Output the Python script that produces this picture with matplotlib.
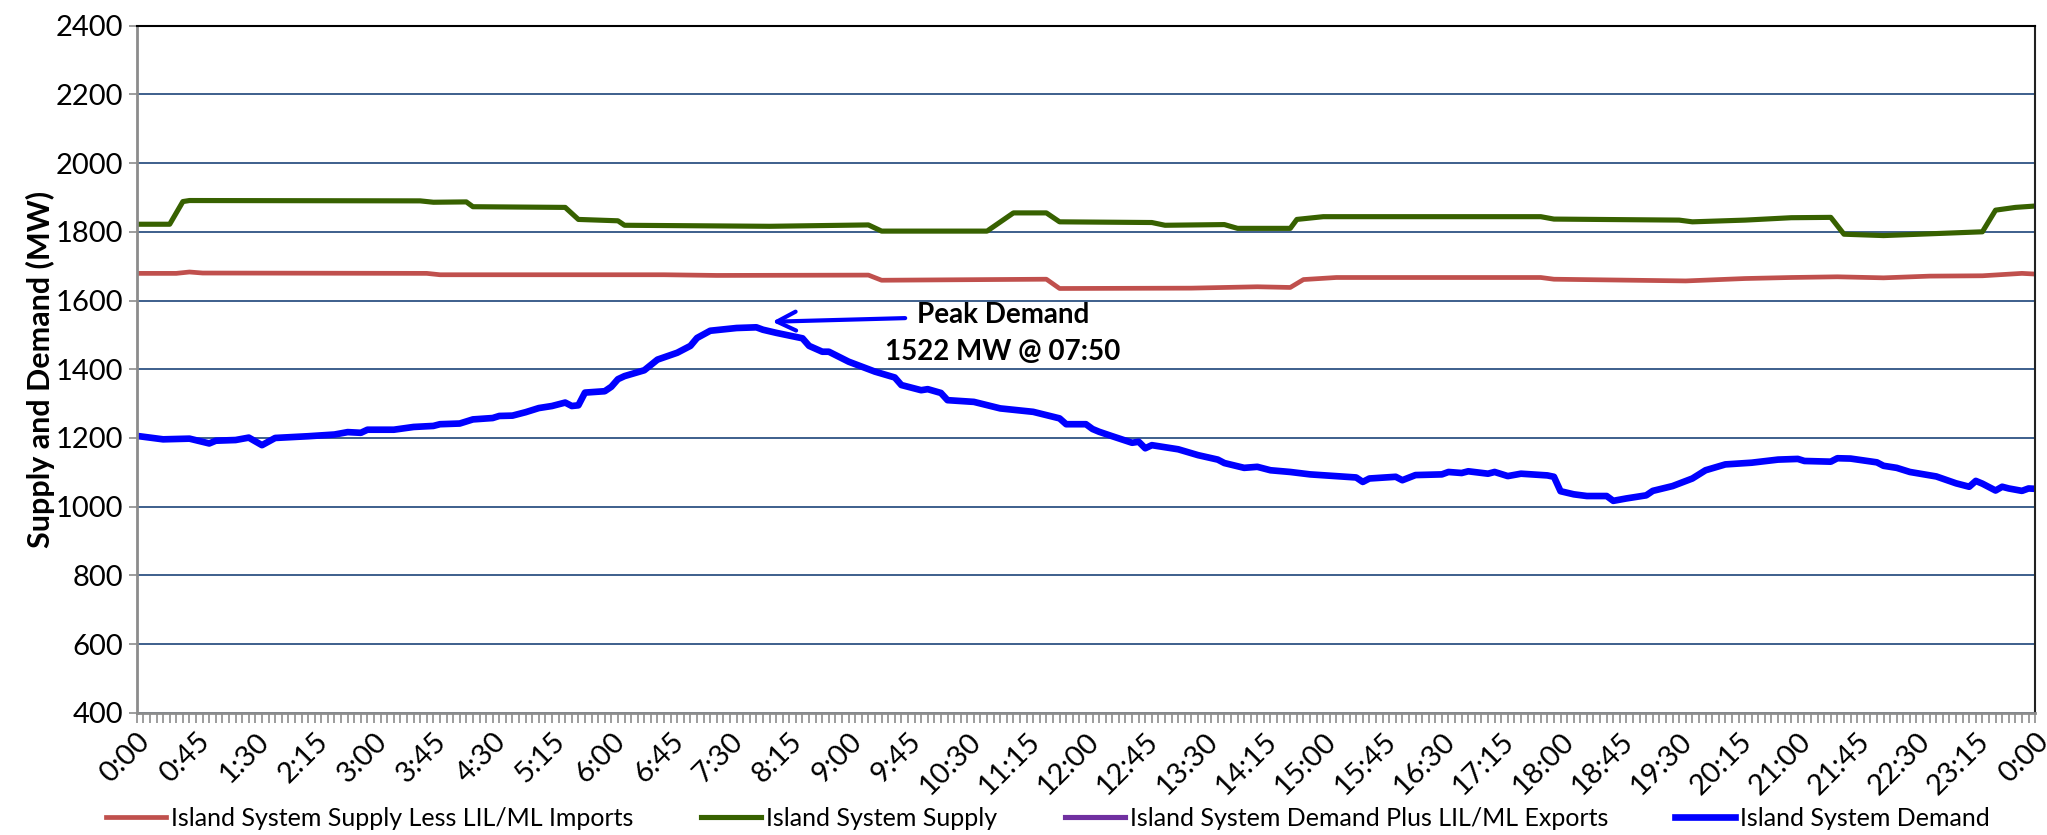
import numpy as np
import matplotlib
matplotlib.use('Agg')
import matplotlib.pyplot as plt
from matplotlib.ticker import MultipleLocator, FuncFormatter

plt.rcParams['font.family'] = ['Lato', 'DejaVu Sans']

# minutes after midnight, MW
demand_t = [0, 20, 40, 55, 60, 75, 85, 95, 105, 130, 150, 160, 170, 175, 195, 210, 225, 230, 245,
            255, 270, 275, 285, 295, 305, 315, 325, 330, 335, 340, 355, 360, 365, 370, 385, 395,
            410, 420, 425, 435, 455, 470, 475, 485, 490, 505, 510, 520, 525, 540, 560, 575, 580,
            595, 600, 610, 615, 635, 655, 680, 700, 705, 720, 725, 730, 740, 755, 760, 765, 770,
            790, 805, 820, 825, 840, 850, 860, 875, 890, 910, 925, 930, 935, 955, 960, 970, 990,
            995, 1005, 1010, 1025, 1030, 1040, 1050, 1070, 1075, 1080, 1090, 1100, 1115, 1120,
            1130, 1145, 1150, 1165, 1180, 1190, 1205, 1225, 1245, 1260, 1265, 1285, 1290, 1300,
            1320, 1325, 1335, 1345, 1365, 1380, 1390, 1395, 1400, 1410, 1415, 1420, 1430, 1435, 1440]
demand_mw = [1206, 1196, 1198, 1184, 1192, 1194, 1201, 1179, 1200, 1205, 1210, 1217, 1215, 1224, 1224,
             1232, 1235, 1240, 1242, 1254, 1258, 1264, 1265, 1275, 1287, 1293, 1303, 1293, 1295, 1332,
             1336, 1349, 1371, 1380, 1397, 1428, 1448, 1468, 1491, 1512, 1520, 1522, 1515, 1506, 1502,
             1490, 1468, 1451, 1451, 1422, 1393, 1376, 1354, 1339, 1342, 1331, 1310, 1305, 1286, 1276,
             1257, 1240, 1240, 1226, 1218, 1205, 1186, 1189, 1170, 1179, 1167, 1150, 1137, 1127, 1113,
             1116, 1106, 1101, 1094, 1089, 1085, 1072, 1082, 1087, 1077, 1092, 1094, 1101, 1098, 1103,
             1096, 1101, 1089, 1096, 1091, 1087, 1045, 1036, 1031, 1031, 1017, 1024, 1033, 1046, 1060,
             1082, 1106, 1123, 1128, 1137, 1139, 1133, 1131, 1141, 1140, 1129, 1119, 1113, 1101, 1088,
             1068, 1058, 1075, 1067, 1047, 1058, 1053, 1046, 1053, 1052]

supply_t = [0, 25, 35, 40, 215, 225, 250, 255, 325, 335, 365, 370, 480, 555, 565, 645, 665, 690, 700,
            770, 780, 825, 835, 875, 880, 900, 1065, 1075, 1170, 1180, 1220, 1255, 1285, 1295, 1325,
            1400, 1410, 1425, 1440]
supply_mw = [1822, 1822, 1888, 1891, 1890, 1886, 1887, 1873, 1871, 1836, 1832, 1819, 1816, 1820, 1802,
             1802, 1855, 1855, 1829, 1827, 1819, 1821, 1810, 1810, 1836, 1844, 1844, 1837, 1834, 1829,
             1834, 1841, 1842, 1793, 1789, 1800, 1863, 1871, 1875]

less_imp_t = [0, 30, 40, 50, 220, 230, 400, 440, 555, 565, 690, 700, 800, 850, 875, 885, 910, 1065,
              1075, 1175, 1220, 1255, 1290, 1325, 1360, 1400, 1430, 1440]
less_imp_mw = [1679, 1679, 1683, 1680, 1679, 1675, 1675, 1673, 1674, 1659, 1662, 1635, 1636, 1640, 1638,
               1661, 1667, 1667, 1662, 1657, 1664, 1667, 1669, 1666, 1671, 1672, 1679, 1677]

series_names = ['Island System Supply Less LIL/ML Imports', 'Island System Supply',
                'Island System Demand Plus LIL/ML Exports', 'Island System Demand']

peak_t = 470
peak_mw = 1522

fig = plt.figure(figsize=(20.47, 8.35), dpi=100)
ax = fig.add_axes([0.0668, 0.1463, 0.9274, 0.8230])

ax.plot(less_imp_t, less_imp_mw, color='#C0504D', lw=3.4, label=series_names[0], solid_joinstyle='round')
ax.plot(supply_t, supply_mw, color='#376100', lw=3.7, label=series_names[1], solid_joinstyle='round')
# exports series sits under the demand line, nothing visible
ax.plot([], [], color='#7030A0', lw=3.7, label=series_names[2])
ax.plot(demand_t, demand_mw, color='#0000FF', lw=4.8, label=series_names[3], solid_joinstyle='round')

ax.set_xlim(0, 1440)
ax.set_ylim(400, 2400)
ax.yaxis.set_major_locator(MultipleLocator(200))
ax.grid(axis='y', color='#3D5F8C', lw=1.4)
ax.set_axisbelow(True)

ax.xaxis.set_major_locator(MultipleLocator(45))
ax.xaxis.set_minor_locator(MultipleLocator(5))
ax.xaxis.set_major_formatter(FuncFormatter(lambda v, p: '%d:%02d' % ((int(v) // 60) % 24, int(v) % 60)))
ax.tick_params(axis='x', which='both', direction='out', length=7, width=1.2, color='#8C8C8C')
ax.tick_params(axis='x', which='major', labelsize=21, pad=4)
ax.tick_params(axis='y', direction='out', length=6, width=1.2, color='#8C8C8C', labelsize=21, pad=4)
for lab in ax.get_xticklabels():
    lab.set_rotation(45)
    lab.set_ha('right')
    lab.set_rotation_mode('anchor')

for s in ['left', 'bottom']:
    ax.spines[s].set_color('#8C8C8C')
    ax.spines[s].set_linewidth(2)
ax.spines['top'].set_color('black')
ax.spines['top'].set_linewidth(1.5)
ax.spines['right'].set_color('#222222')
ax.spines['right'].set_linewidth(1.5)

ax.set_ylabel('Supply and Demand (MW)', fontsize=22, fontweight='bold', labelpad=0)

ax.annotate('', xy=(peak_t + 10, peak_mw + 16), xytext=(585, peak_mw + 27),
            arrowprops=dict(arrowstyle='->', color='#0000FF', lw=3, mutation_scale=34))
ax.text(657, 1557, 'Peak Demand', fontsize=20, fontweight='bold', ha='center', va='center')
ax.text(657, 1450, '1522 MW @ 07:50', fontsize=20, fontweight='bold', ha='center', va='center')

fig.legend(loc='center', bbox_to_anchor=(0.512, 0.02), ncol=4, frameon=False, fontsize=18,
           handlelength=2.4, handletextpad=0.2, columnspacing=2.7)

fig.savefig('out.png', dpi=100)
